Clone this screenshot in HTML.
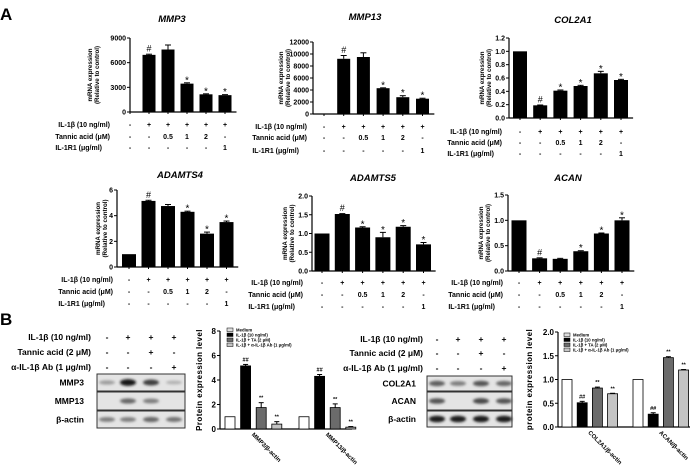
<!DOCTYPE html>
<html><head><meta charset="utf-8"><style>
html,body{margin:0;padding:0;background:#fff;}
svg{display:block;font-family:"Liberation Sans",sans-serif;}
</style></head><body>
<svg id="fig" width="700" height="473" viewBox="0 0 700 473" xmlns="http://www.w3.org/2000/svg">
<defs><filter id="blur" x="-20%" y="-50%" width="140%" height="200%"><feGaussianBlur stdDeviation="1.2"/></filter></defs>
<text x="0" y="20" font-size="17" font-weight="bold">A</text>
<text x="0" y="325" font-size="17" font-weight="bold">B</text>
</svg>
<script>
// ---- Panel A data ----
const aRow1 = ['-','+','+','+','+','+'];
const aRow2 = ['-','-','0.5','1','2','-'];
const aRow3 = ['-','-','-','-','-','1'];
const mmp3Values = [0, 6950, 7600, 3450, 2150, 2050];
const mmp3Errors = [0, 80, 550, 100, 60, 60];
const mmp3Marks = ['', '#', '', '*', '*', '*'];
const mmp3Ticks = [0, 3000, 6000, 9000];
const mmp13Values = [0, 9200, 9500, 4300, 2800, 2550];
const mmp13Errors = [0, 550, 700, 60, 250, 80];
const mmp13Marks = ['', '#', '', '*', '*', '*'];
const mmp13Ticks = [0, 2000, 4000, 6000, 8000, 10000, 12000];
const col2a1Values = [1.0, 0.19, 0.41, 0.48, 0.67, 0.57];
const col2a1Errors = [0, 0.005, 0.01, 0.01, 0.03, 0.01];
const col2a1Marks = ['', '#', '*', '*', '*', '*'];
const col2a1Ticks = [0, 0.2, 0.4, 0.6, 0.8, 1.0, 1.2];
const adamts4Values = [1.0, 5.15, 4.75, 4.3, 2.6, 3.5];
const adamts4Errors = [0, 0.05, 0.12, 0.05, 0.12, 0.08];
const adamts4Marks = ['', '#', '', '*', '*', '*'];
const adamts4Ticks = [0, 2, 4, 6];
const adamts5Values = [1.0, 1.52, 1.16, 0.9, 1.18, 0.71];
const adamts5Errors = [0, 0.01, 0.02, 0.13, 0.03, 0.05];
const adamts5Marks = ['', '#', '*', '*', '*', '*'];
const adamts5Ticks = [0, 0.5, 1.0, 1.5, 2.0];
const acanValues = [1.0, 0.25, 0.24, 0.39, 0.74, 1.0];
const acanErrors = [0, 0.01, 0.01, 0.01, 0.01, 0.05];
const acanMarks = ['', '#', '', '*', '*', '*'];
const acanTicks = [0, 0.5, 1.0, 1.5];
// ---- Panel B data ----
const bLegend = ['Medium', 'IL-1β (10 ng/ml)', 'IL-1β + TA (2 μM)', 'IL-1β + α-IL-1β Ab (1 μg/ml)'];
const bColors = ['#ffffff', '#000000', '#6b6b6b', '#c4c4c4'];
const mmpGroups = ['MMP3/β-actin', 'MMP13/β-actin'];
const mmpValues = [[1, 5.15, 1.75, 0.4], [1, 4.3, 1.75, 0.15]];
const mmpErrors = [[0, 0.12, 0.4, 0.2], [0, 0.15, 0.3, 0.05]];
const mmpMarks = [['', '##', '**', '**'], ['', '##', '**', '**']];
const mmpTicks = [0, 2, 4, 6, 8];
const colGroups = ['COL2A1/β-actin', 'ACAN/β-actin'];
const colValues = [[1, 0.51, 0.82, 0.70], [1, 0.27, 1.46, 1.2]];
const colErrors = [[0, 0.03, 0.02, 0.01], [0, 0.03, 0.02, 0.01]];
const colMarks = [['', '##', '**', '**'], ['', '##', '**', '**']];
const colTicks = [0, 0.5, 1.0, 1.5, 2.0];
const bSigns1 = ['-', '+', '+', '+'];
const bSigns2 = ['-', '-', '+', '-'];
const bSigns3 = ['-', '-', '-', '+'];

const svg = document.getElementById('fig');
const NS = 'http://www.w3.org/2000/svg';
function el(tag, attrs, parent, text) {
  const e = document.createElementNS(NS, tag);
  for (const k in attrs) e.setAttribute(k, attrs[k]);
  if (text !== undefined) e.textContent = text;
  (parent || svg).appendChild(e);
  return e;
}
function fmt(v, t) { return (t.some(x => x % 1 !== 0)) ? v.toFixed(1) : String(v); }

function drawA(c) {
  const g = el('g', {});
  
  
  const max = c.ticks[c.ticks.length - 1];
  const ys = v => c.y0 - v / max * (c.y0 - c.yTop);
  const xc = i => c.c0 + i * c.step;
  const xEnd = xc(5) + c.step / 2 + 2;
  const ax = el('line', {x1: c.x0, y1: c.yTop, x2: c.x0, y2: c.y0, stroke: '#000', 'stroke-width': 1.2}, g);
   
  const xx = el('line', {x1: c.x0, y1: c.y0, x2: xEnd, y2: c.y0, stroke: '#000', 'stroke-width': 1.2}, g);
   
  c.ticks.forEach(t => {
    el('line', {x1: c.x0 - 3, y1: ys(t), x2: c.x0, y2: ys(t), stroke: '#000'}, g);
    const tl = el('text', {x: c.x0 - 4, y: ys(t) + 2.5, 'font-size': 7, 'font-weight': 'bold', 'text-anchor': 'end'}, g, fmt(t, c.ticks));
     
  });
  c.vals.forEach((v, i) => {
    const x = xc(i);
    el('line', {x1: x, y1: c.y0, x2: x, y2: c.y0 + 2, stroke: '#000'}, g);
    const b = el('rect', {x: x - c.bw / 2, y: ys(v), width: c.bw, height: c.y0 - ys(v), fill: '#000'}, g);
     
    const e = c.errs[i];
    if (e > 0) {
      el('line', {x1: x, y1: ys(v), x2: x, y2: ys(v + e), stroke: '#000'}, g);
      el('line', {x1: x - 3, y1: ys(v + e), x2: x + 3, y2: ys(v + e), stroke: '#000'}, g);
    }
    if (c.marks[i]) {
      const m = el('text', {x: x, y: ys(v + e) - 2.5 + (c.marks[i] === '*' ? 3 : 0), 'font-size': c.marks[i] === '*' ? 10 : 9, 'text-anchor': 'middle'}, g, c.marks[i]);
       
    }
  });
  const t = el('text', {x: c.tx, y: c.ty, 'font-size': 9.5, 'font-weight': 'bold', 'font-style': 'italic', 'text-anchor': 'middle'}, g, c.title);
   
  const my = (c.y0 + c.yTop) / 2;
  const yl = el('text', {transform: `translate(${c.x0 - c.ylOff},${my}) rotate(-90)`, 'font-size': 6.2, 'font-weight': 'bold', 'text-anchor': 'middle'}, g);
   
  el('tspan', {x: 0, dy: 0}, yl, 'mRNA expression');
  el('tspan', {x: 0, dy: 7}, yl, '(Relative to control)');
  const labels = ['IL-1β (10 ng/ml)', 'Tannic acid (μM)', 'IL-1R1 (μg/ml)'];
  const rows = [aRow1, aRow2, aRow3];
  rows.forEach((r, ri) => {
    const lx = ri === 2 ? c.lx - 8 : c.lx;
    const l = el('text', {x: lx, y: c.rows[ri], 'font-size': 7, 'font-weight': 'bold', 'text-anchor': 'end'}, g, labels[ri]);
     
    r.forEach((s, i) => el('text', {x: xc(i), y: c.rows[ri], 'font-size': 7, 'font-weight': 'bold', 'text-anchor': 'middle'}, g, s));
  });
}

drawA({name: 'mmp3', title: 'MMP3', tx: 172, ty: 22, x0: 130, y0: 112, yTop: 38, c0: 130, step: 19, bw: 13, vals: mmp3Values, errs: mmp3Errors, marks: mmp3Marks, ticks: mmp3Ticks, rows: [127, 139, 150], lx: 110, ylOff: 38});
drawA({name: 'mmp13', title: 'MMP13', tx: 365, ty: 20, x0: 313, y0: 114, yTop: 42, c0: 324, step: 19.7, bw: 13, vals: mmp13Values, errs: mmp13Errors, marks: mmp13Marks, ticks: mmp13Ticks, rows: [129, 140, 153], lx: 307, ylOff: 30});
drawA({name: 'col2a1', title: 'COL2A1', tx: 573, ty: 23, x0: 509, y0: 118, yTop: 38, c0: 520, step: 20.2, bw: 14, vals: col2a1Values, errs: col2a1Errors, marks: col2a1Marks, ticks: col2a1Ticks, rows: [134, 145, 156], lx: 502, ylOff: 25});
drawA({name: 'adamts4', title: 'ADAMTS4', tx: 180, ty: 178, x0: 117, y0: 267, yTop: 190, c0: 129, step: 19.5, bw: 14, vals: adamts4Values, errs: adamts4Errors, marks: adamts4Marks, ticks: adamts4Ticks, rows: [282, 294, 306], lx: 113, ylOff: 17});
drawA({name: 'adamts5', title: 'ADAMTS5', tx: 373, ty: 181, x0: 312, y0: 271, yTop: 196, c0: 322, step: 20.3, bw: 15, vals: adamts5Values, errs: adamts5Errors, marks: adamts5Marks, ticks: adamts5Ticks, rows: [285, 297, 309], lx: 303, ylOff: 25});
drawA({name: 'acan', title: 'ACAN', tx: 568, ty: 181, x0: 508, y0: 271, yTop: 195, c0: 519, step: 20.6, bw: 15, vals: acanValues, errs: acanErrors, marks: acanMarks, ticks: acanTicks, rows: [285, 297, 309], lx: 503, ylOff: 25});

// ---- Panel B blots ----
function drawBlot(b) {
  const g = el('g', {});
   
  const labels = ['IL-1β (10 ng/ml)', 'Tannic acid (2 μM)', 'α-IL-1β Ab (1 μg/ml)'];
  [bSigns1, bSigns2, bSigns3].forEach((r, ri) => {
    const l = el('text', {x: b.lx, y: b.rows[ri], 'font-size': 8.5, 'font-weight': 'bold', 'text-anchor': 'end'}, g, labels[ri]);
     
    r.forEach((s, i) => el('text', {x: b.cols[i], y: b.rows[ri], 'font-size': 8.5, 'font-weight': 'bold', 'text-anchor': 'middle'}, g, s));
  });
  b.bands.forEach((band, bi) => {
    const [y1, y2] = band.y;
    el('rect', {x: b.x1, y: y1, width: b.x2 - b.x1, height: y2 - y1, fill: '#e4e4e4', stroke: '#333', 'stroke-width': 1}, g);
    const l = el('text', {x: b.nameX, y: (y1 + y2) / 2 + 3, 'font-size': 8.5, 'font-weight': 'bold', 'text-anchor': 'end'}, g, band.label);
     
    band.int.forEach((v, i) => {
      if (v <= 0) return;
      const c = Math.round(220 - v * 210);
      el('ellipse', {cx: b.cols[i], cy: (y1 + y2) / 2, rx: 8, ry: 1.5 + v * 2, fill: `rgb(${c},${c},${c})`, filter: 'url(#blur)'}, g);
    });
  });
}
drawBlot({name: 'mmp-western-blot', lx: 91, rows: [340, 355, 370], cols: [107, 128, 151, 174], x1: 97, x2: 185, nameX: 84,
  bands: [{label: 'MMP3', y: [374, 391], int: [0.3, 0.95, 0.75, 0.2]}, {label: 'MMP13', y: [392, 410], int: [0, 0.55, 0.45, 0]}, {label: 'β-actin', y: [411, 428], int: [0.45, 0.45, 0.55, 0.5]}]});
drawBlot({name: 'col2a1-acan-western-blot', lx: 423, rows: [342, 356, 371], cols: [437, 458, 481, 504], x1: 427, x2: 512, nameX: 416,
  bands: [{label: 'COL2A1', y: [376, 391], int: [0.6, 0.45, 0.65, 0.55]}, {label: 'ACAN', y: [392, 410], int: [0.65, 0, 0.7, 0.65]}, {label: 'β-actin', y: [411, 427], int: [0.9, 0.9, 0.9, 0.9]}]});

// ---- Panel B charts ----
function drawB(c) {
  const g = el('g', {});
   
  const max = c.ticks[c.ticks.length - 1];
  const ys = v => c.y0 - v / max * (c.y0 - c.yTop);
  el('line', {x1: c.x0, y1: c.yTop, x2: c.x0, y2: c.y0, stroke: '#000', 'stroke-width': 1.2}, g);
  el('line', {x1: c.x0, y1: c.y0, x2: c.xEnd, y2: c.y0, stroke: '#000', 'stroke-width': 1.2}, g);
  c.ticks.forEach(t => {
    el('line', {x1: c.x0 - 3, y1: ys(t), x2: c.x0, y2: ys(t), stroke: '#000'}, g);
    const tl = el('text', {x: c.x0 - 4, y: ys(t) + 3, 'font-size': 8, 'font-weight': 'bold', 'text-anchor': 'end'}, g, fmt(t, c.ticks));
     
  });
  const yl = el('text', {transform: `translate(${c.ylx},${(c.y0 + c.yTop) / 2}) rotate(-90)`, 'font-size': 8, 'font-weight': 'bold', 'text-anchor': 'middle', 'letter-spacing': 0.4}, g, c.ylabel);
   
  c.groups.forEach((gn, gi) => {
    c.vals[gi].forEach((v, i) => {
      const x = c.g0[gi] + i * c.step;
      const b = el('rect', {x: x - c.bw / 2, y: ys(v), width: c.bw, height: c.y0 - ys(v), fill: bColors[i], stroke: '#000', 'stroke-width': 0.8}, g);
       
      const e = c.errs[gi][i];
      if (e > 0) {
        el('line', {x1: x, y1: ys(v), x2: x, y2: ys(v + e), stroke: '#000'}, g);
        el('line', {x1: x - 2.5, y1: ys(v + e), x2: x + 2.5, y2: ys(v + e), stroke: '#000'}, g);
      }
      if (c.marks[gi][i]) el('text', {x: x, y: ys(v + e) - 3, 'font-size': 5.5, 'text-anchor': 'middle', 'font-weight': 'bold'}, g, c.marks[gi][i]);
    });
    const lx = c.g0[gi] + 1.5 * c.step;
    const xl = el('text', {transform: `translate(${lx - 2},${c.y0 + 6}) rotate(45)`, 'font-size': 6, 'font-weight': 'bold'}, g, gn);
     
  });
  bLegend.forEach((t, i) => {
    const y = c.legY + i * 5;
    const lg = el('g', {}, g);
     
    el('rect', {x: c.legX, y: y - 3, width: 6, height: 3.5, fill: i === 0 ? '#ddd' : bColors[i], stroke: '#000', 'stroke-width': 0.5}, lg);
    el('text', {x: c.legX + 9, y: y + 0.5, 'font-size': 4.3, 'font-weight': 'bold'}, lg, t);
  });
}
drawB({name: 'mmp-protein-chart', x0: 220, y0: 429, yTop: 331, xEnd: 352, ticks: mmpTicks, groups: mmpGroups, vals: mmpValues, errs: mmpErrors, marks: mmpMarks, g0: [230, 304], step: 15.6, bw: 10, ylx: 202, ylabel: 'Protein expression level', legX: 227, legY: 331});
drawB({name: 'col2a1-acan-protein-chart', x0: 558, y0: 427, yTop: 332, xEnd: 690, ticks: colTicks, groups: colGroups, vals: colValues, errs: colErrors, marks: colMarks, g0: [567, 638], step: 15.2, bw: 10, ylx: 532, ylabel: 'protein expression level', legX: 564, legY: 336});
</script>
</body></html>
